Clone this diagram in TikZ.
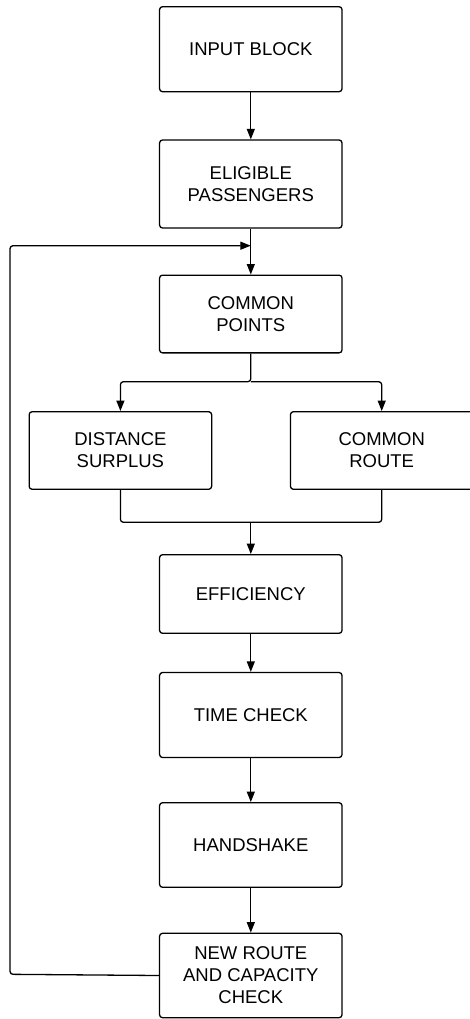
\documentclass[tikz,border=0pt]{standalone}
\usepackage{fontspec}
\setmainfont{Liberation Sans}
\usetikzlibrary{arrows.meta,positioning}
\begin{document}
\begin{tikzpicture}[x=1pt,y=-1pt,
  blk/.style={draw=black,line width=1.3pt,rounded corners=3pt,minimum width=182.5pt,
    align=center,font=\fontsize{18.5}{22}\selectfont,inner sep=0pt},
  conn/.style={line width=1.3pt,rounded corners=3pt},
  arr/.style={conn,-{Triangle[length=10.5pt,width=8pt]}}]
\useasboundingbox (0,0) rectangle (469,1019);
\node[blk,minimum height=85pt] (in) at (250.8,49.2) {INPUT BLOCK};
\node[blk,minimum height=88pt] (el) at (250.8,184) {ELIGIBLE\\PASSENGERS};
\node[blk,minimum height=77.7pt] (cp) at (250.8,314) {COMMON\\POINTS};
\node[blk,minimum height=77.6pt] (ds) at (120.4,450.5) {DISTANCE\\SURPLUS};
\node[blk,minimum height=77.6pt] (cr) at (381.7,450.5) {COMMON\\ROUTE};
\node[blk,minimum height=78.6pt] (ef) at (250.8,594) {EFFICIENCY};
\node[blk,minimum height=85pt] (tc) at (250.8,715) {TIME CHECK};
\node[blk,minimum height=84.6pt] (hs) at (250.8,845) {HANDSHAKE};
\node[blk,minimum height=84.4pt] (nr) at (250.8,975.5) {NEW ROUTE\\AND CAPACITY\\CHECK};
\coordinate (fb) at (250.8,245.7);
\coordinate (br) at (250.8,381.7);
\coordinate (mg) at (250.8,522.3);
\draw[arr] (in) -- (el);
\draw[arr] (el) -- (cp);
\draw[arr] (nr.west) -- (10,974.3) -- (10,245.7) -- (fb);
\draw[arr] (cp.south) -- (br) -| (ds.north);
\draw[arr] (br) -| (cr.north);
\draw[conn] (ds.south) |- (mg) -| (cr.south);
\draw[arr] (mg) -- (ef.north);
\draw[arr] (ef) -- (tc);
\draw[arr] (tc) -- (hs);
\draw[arr] (hs) -- (nr);
\end{tikzpicture}
\end{document}
